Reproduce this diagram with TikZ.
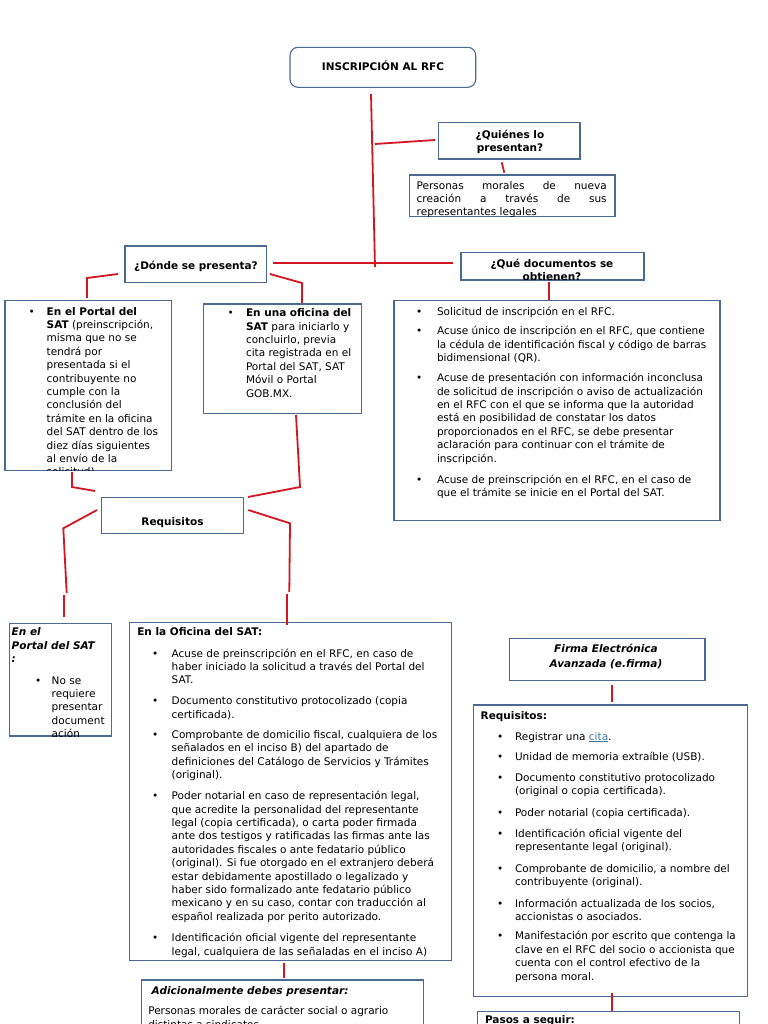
\documentclass[tikz,border=0pt]{standalone}
\usepackage{fontspec}
\setmainfont{DejaVu Sans}
\usetikzlibrary{fit}
\definecolor{boxc}{RGB}{74,106,146}
\definecolor{redc}{RGB}{212,22,32}
\definecolor{linkc}{RGB}{55,120,160}
\newcommand{\fs}{\fontsize{10.5bp}{13.4bp}\selectfont}
\newcommand{\Lns}[1]{\begin{tabular}[t]{@{}l@{}}#1\end{tabular}}
\newcommand{\Cns}[1]{\begin{tabular}[t]{@{}c@{}}#1\end{tabular}}
\newcommand{\Bul}[2]{\begin{tabular}[t]{@{}l@{}l@{}}\makebox[#1][l]{•}&#2\end{tabular}}
\tikzset{
  box/.style={draw=boxc, line width=1.1bp, inner sep=0pt, outer sep=0pt, fill=white},
  rbox/.style={box, rounded corners=8bp},
  txt/.style={inner sep=0pt, outer sep=0pt, font=\fs, anchor=base west},
  txtc/.style={inner sep=0pt, outer sep=0pt, font=\fs, anchor=base},
  redline/.style={draw=redc, line width=1.8bp}
}
\begin{document}
\begin{tikzpicture}[x=1bp,y=-1bp]
\useasboundingbox (0,0) rectangle (768,1024);
\clip (0,0) rectangle (768,1024);
\fill[white] (0,0) rectangle (768,1024);

% ---------- title ----------
\node[rbox, fit={(290,47.3)(475.7,87.3)}] (title) {};
\node[txtc] (titlet) at (383,70.7) {\textbf{INSCRIPCIÓN AL RFC}};

% ---------- Quienes ----------
\node[box, fit={(438.3,122.7)(580,159)}] (quien) {};
\node[txtc] (quient) at (510,138) {\Cns{\textbf{¿Quiénes lo}\\\textbf{presentan?}}};

\node[box, fit={(409.3,175)(615,216.7)}] (pers) {};
\begin{scope}
\clip (pers.north west) rectangle (pers.south east);
\node[txt] (perst) at (416.7,189) {\Lns{\makebox[190bp][s]{Personas morales de nueva}\\\makebox[190bp][s]{creación a través de sus}\\representantes legales}};
\end{scope}

% ---------- Donde ----------
\node[box, fit={(125,246)(266.7,282.7)}] (donde) {};
\node[txtc] (dondet) at (196,269) {\textbf{¿Dónde se presenta?}};

% ---------- Que documentos ----------
\node[box, fit={(461,252.7)(644,280)}] (que) {};
\begin{scope}
\clip (que.north west) rectangle (que.south east);
\node[txtc] (quet) at (552,267.3) {\Cns{\textbf{¿Qué documentos se}\\\textbf{obtienen?}}};
\end{scope}

\node[box, fit={(394,300.7)(720,520.7)}] (docs) {};
\node[txt] (docs1) at (416,315.7) {\Bul{21bp}{Solicitud de inscripción en el RFC.}};
\node[txt] (docs2) at (416,334.7) {\Bul{21bp}{Acuse único de inscripción en el RFC, que contiene\\&la cédula de identificación fiscal y código de barras\\&bidimensional (QR).}};
\node[txt] (docs3) at (416,381.7) {\Bul{21bp}{Acuse de presentación con información inconclusa\\&de solicitud de inscripción o aviso de actualización\\&en el RFC con el que se informa que la autoridad\\&está en posibilidad de constatar los datos\\&proporcionados en el RFC, se debe presentar\\&aclaración para continuar con el trámite de\\&inscripción.}};
\node[txt] (docs4) at (416,483.3) {\Bul{21bp}{Acuse de preinscripción en el RFC, en el caso de\\&que el trámite se inicie en el Portal del SAT.}};

% ---------- Portal / Oficina ----------
\node[box, fit={(5,300.7)(171.7,470.7)}] (portal) {};
\begin{scope}
\clip (portal.north west) rectangle (portal.south east);
\node[txt] (portalt) at (28.5,315) {\Bul{18.2bp}{\textbf{En el Portal del}\\&\textbf{SAT} (preinscripción,\\&misma que no se\\&tendrá por\\&presentada si el\\&contribuyente no\\&cumple con la\\&conclusión del\\&trámite en la oficina\\&del SAT dentro de los\\&diez días siguientes\\&al envío de la\\&solicitud).}};
\end{scope}

\node[box, fit={(203.7,304)(361.7,413.3)}] (ofi) {};
\node[txt] (ofit) at (227.5,316.7) {\Bul{18.5bp}{\textbf{En una oficina del}\\&\textbf{SAT} para iniciarlo y\\&concluirlo, previa\\&cita registrada en el\\&Portal del SAT, SAT\\&Móvil o Portal\\&GOB.MX.}};

% ---------- Requisitos ----------
\node[box, fit={(101.7,497.3)(243.3,533.3)}] (req) {};
\node[txtc] (reqt) at (172.5,525.7) {\textbf{Requisitos}};

\node[box, fit={(9.3,623.3)(111.7,736)}] (portal2) {};
\begin{scope}
\clip (portal2.north west) rectangle (portal2.south east);
\node[txt] (portal2a) at (11.7,635.7) {\Lns{\textbf{\textit{En el}}\\\textbf{\textit{Portal del SAT}}\\\textbf{\textit{:}}}};
\node[txt] (portal2b) at (35.2,684) {\Bul{16.5bp}{No se\\&requiere\\&presentar\\&document\\&ación}};
\end{scope}

\node[box, fit={(129.3,622.5)(451.7,960.7)}] (oficina) {};
\node[txt] (oficinat) at (137.3,635.7) {\textbf{En la Oficina del SAT:}};
\node[txt] (of1) at (152,657) {\Bul{19.7bp}{Acuse de preinscripción en el RFC, en caso de\\&haber iniciado la solicitud a través del Portal del\\&SAT.}};
\node[txt] (of2) at (152,704.7) {\Bul{19.7bp}{Documento constitutivo protocolizado (copia\\&certificada).}};
\node[txt] (of3) at (152,738.3) {\Bul{19.7bp}{Comprobante de domicilio fiscal, cualquiera de los\\&señalados en el inciso B) del apartado de\\&definiciones del Catálogo de Servicios y Trámites\\&(original).}};
\node[txt] (of4) at (152,799.7) {\Bul{19.7bp}{Poder notarial en caso de representación legal,\\&que acredite la personalidad del representante\\&legal (copia certificada), o carta poder firmada\\&ante dos testigos y ratificadas las firmas ante las\\&autoridades fiscales o ante fedatario público\\&(original). Si fue otorgado en el extranjero deberá\\&estar debidamente apostillado o legalizado y\\&haber sido formalizado ante fedatario público\\&mexicano y en su caso, contar con traducción al\\&español realizada por perito autorizado.}};
\node[txt] (of5) at (152,941.7) {\Bul{19.7bp}{Identificación oficial vigente del representante\\&legal, cualquiera de las señaladas en el inciso A)}};

\node[box, fit={(141.7,980)(423.3,1034)}] (adic) {};
\node[txt] (adict) at (151.7,994) {\textbf{\textit{Adicionalmente debes presentar:}}};
\node[txt] (adicb) at (148.3,1014.7) {\Lns{Personas morales de carácter social o agrario\\distintas a sindicatos}};

% ---------- e.firma ----------
\node[box, fit={(509.3,638.3)(705,680.7)}] (firma) {};
\node[txtc] (firmat) at (606,652.5) {\textbf{\textit{Firma Electrónica}}};
\node[txtc] (firmat2) at (606,667.5) {\textbf{\textit{Avanzada (e.firma)}}};

\node[box, fit={(473.3,705)(747.3,996.7)}] (req2) {};
\node[txt] (req2t) at (480.7,719) {\textbf{Requisitos:}};
\node[txt] (r1) at (497,740) {\Bul{18bp}{Registrar una \textcolor{linkc}{\underline{cita}}.}};
\node[txt] (r2) at (497,760.7) {\Bul{18bp}{Unidad de memoria extraíble (USB).}};
\node[txt] (r3) at (497,781) {\Bul{18bp}{Documento constitutivo protocolizado\\&(original o copia certificada).}};
\node[txt] (r4) at (497,816.7) {\Bul{18bp}{Poder notarial (copia certificada).}};
\node[txt] (r5) at (497,837.3) {\Bul{18bp}{Identificación oficial vigente del\\&representante legal (original).}};
\node[txt] (r6) at (497,872.3) {\Bul{18bp}{Comprobante de domicilio, a nombre del\\&contribuyente (original).}};
\node[txt] (r7) at (497,907.3) {\Bul{18bp}{Información actualizada de los socios,\\&accionistas o asociados.}};
\node[txt] (r8) at (497,939.9) {\Bul{18bp}{Manifestación por escrito que contenga la\\&clave en el RFC del socio o accionista que\\&cuenta con el control efectivo de la\\&persona moral.}};

\node[box, fit={(477.3,1011.7)(739.3,1034)}] (pasos) {};
\node[txt] (pasost) at (485,1023.5) {\textbf{Pasos a seguir:}};

% ---------- connector points ----------
\coordinate (a1) at (371,94);     \coordinate (a2) at (375,267);
\coordinate (b1) at (375,144);    \coordinate (b2) at (435,140);
\coordinate (c1) at (501.7,162.3);\coordinate (c2) at (504.3,172.7);
\coordinate (d1) at (273,263);    \coordinate (d2) at (453.3,263);
\coordinate (e1) at (549,281.5);  \coordinate (e2) at (549,300);
\coordinate (f1) at (118,274);    \coordinate (f2) at (87,278);   \coordinate (f3) at (87,298);
\coordinate (g1) at (270,274);    \coordinate (g2) at (302,283);  \coordinate (g3) at (302,303);
\coordinate (h1) at (72,472);     \coordinate (h2) at (72,487);   \coordinate (h3) at (95,491);
\coordinate (i1) at (296,415);    \coordinate (i2) at (300,487);  \coordinate (i3) at (248,497);
\coordinate (j1) at (97,510);     \coordinate (j2) at (63.3,528.3); \coordinate (j3) at (66.7,593);
\coordinate (k1) at (64,595);     \coordinate (k2) at (64,617);
\coordinate (l1) at (248.3,510);  \coordinate (l2) at (290,523.3); \coordinate (l3) at (289.3,592);
\coordinate (m1) at (287,594);    \coordinate (m2) at (287,625);
\coordinate (n1) at (284,962.7);  \coordinate (n2) at (284,978.3);
\coordinate (o1) at (612,685);    \coordinate (o2) at (612,701.7);
\coordinate (p1) at (612,993.3);  \coordinate (p2) at (612,1010.7);

\draw[redline] (a1) -- (a2);
\draw[redline] (b1) -- (b2);
\draw[redline] (c1) -- (c2);
\draw[redline] (d1) -- (d2);
\draw[redline] (e1) -- (e2);
\draw[redline] (f1) -- (f2) -- (f3);
\draw[redline] (g1) -- (g2) -- (g3);
\draw[redline] (h1) -- (h2) -- (h3);
\draw[redline] (i1) -- (i2) -- (i3);
\draw[redline] (j1) -- (j2) -- (j3);
\draw[redline] (k1) -- (k2);
\draw[redline] (l1) -- (l2) -- (l3);
\draw[redline] (m1) -- (m2);
\draw[redline] (n1) -- (n2);
\draw[redline] (o1) -- (o2);
\draw[redline] (p1) -- (p2);
\end{tikzpicture}
\end{document}
